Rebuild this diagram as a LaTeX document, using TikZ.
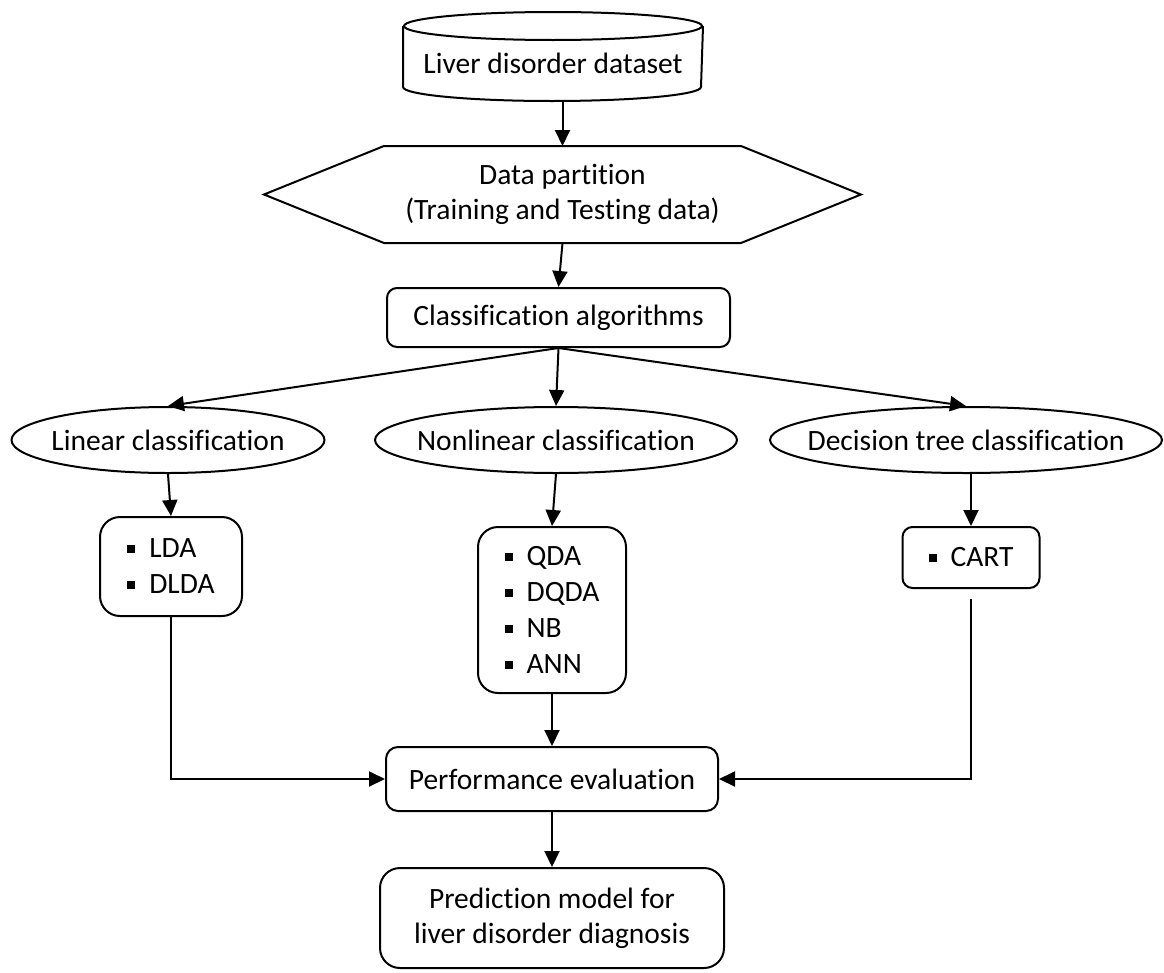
\documentclass[tikz,border=0pt]{standalone}
\usepackage{fontspec}
\setmainfont{Carlito}[Ligatures=NoCommon]
\usetikzlibrary{shapes.geometric,arrows.meta,calc}
\newcommand\bulmark{\raisebox{5pt}{\rule{8pt}{8pt}}\hspace{14pt}}
\begin{document}
\begin{tikzpicture}[x=1pt,y=-1pt,line width=2pt,
  every node/.style={font=\fontsize{29.5}{35}\selectfont,inner sep=0pt},
  rbox/.style={draw,rounded corners=#1,align=center},
  rbox/.default=12pt,
  ell/.style={draw,ellipse,minimum height=66pt},
  listbox/.style={draw,rounded corners=#1,align=left,font=\fontsize{29.5}{36}\selectfont},
  arr/.style={-{Triangle[length=16pt,width=15pt]}}]
\useasboundingbox (0,0) rectangle (1164,972);

% cylinder
\node[minimum width=298pt,minimum height=87pt,text height=33pt,text depth=0pt] (data) at (553,56.5) {Liver disorder dataset};
\draw ([yshift=-14pt]data.north) ellipse [x radius=149pt,y radius=14pt];
\draw ([yshift=-14pt]data.north west) -- ([yshift=14pt]data.south west)
  arc[start angle=180,end angle=360,x radius=149pt,y radius=14pt]
  -- ([yshift=-14pt]data.north east);

% hexagon
\node[minimum width=595pt,minimum height=95pt,align=center] (part) at (562.5,194.5) {Data partition\\(Training and Testing data)};
\draw (part.west) -- ([xshift=120pt]part.north west) -- ([xshift=-120pt]part.north east)
  -- (part.east) -- ([xshift=-120pt]part.south east) -- ([xshift=120pt]part.south west) -- cycle;

\node[rbox=10pt,minimum width=343pt,minimum height=59pt] (alg) at (558.5,317.5) {Classification algorithms};

\node[ell,minimum width=313pt] (lin) at (168,440) {\makebox[0pt]{Linear classification}};
\node[ell,minimum width=362pt] (non) at (556,440) {\makebox[0pt]{Nonlinear classification}};
\node[ell,minimum width=392pt] (dec) at (966,440) {\makebox[0pt]{Decision tree classification}};

\node[listbox=20pt,minimum width=142pt,minimum height=99pt] (lda) at (171,566.5) {\bulmark LDA\\\bulmark DLDA};
\node[listbox=20pt,minimum width=148pt,minimum height=166pt] (qda) at (552,610) {\bulmark QDA\\\bulmark DQDA\\\bulmark NB\\\bulmark ANN};
\node[listbox=10pt,minimum width=137pt,minimum height=61pt] (cart) at (971,557.5) {\bulmark CART};

\node[rbox=12pt,minimum width=332pt,minimum height=64pt] (perf) at (552,779) {Performance evaluation};
\node[rbox=20pt,minimum width=344pt,minimum height=100pt] (pred) at (552,918) {Prediction model for\\liver disorder diagnosis};

% connectors
\draw[arr] (data.south -| part.north) -- (part.north);
\draw[arr] (part.south) -- (alg.north);
\draw[arr] (alg.south) -- (lin.north);
\draw[arr] (alg.south) -- (non.north);
\draw[arr] (alg.south) -- (dec.north);
\draw[arr] (lin.south) -- (lda.north);
\draw[arr] (non.south) -- (qda.north);
\draw[arr] (cart.north |- dec.south) -- (cart.north);
\draw[arr] (lda.south) |- (perf.west);
\draw[arr] (qda.south) -- (perf.north);
\draw[arr] ([yshift=-10pt]cart.south) |- (perf.east);
\draw[arr] (perf.south) -- (pred.north);
\end{tikzpicture}
\end{document}
